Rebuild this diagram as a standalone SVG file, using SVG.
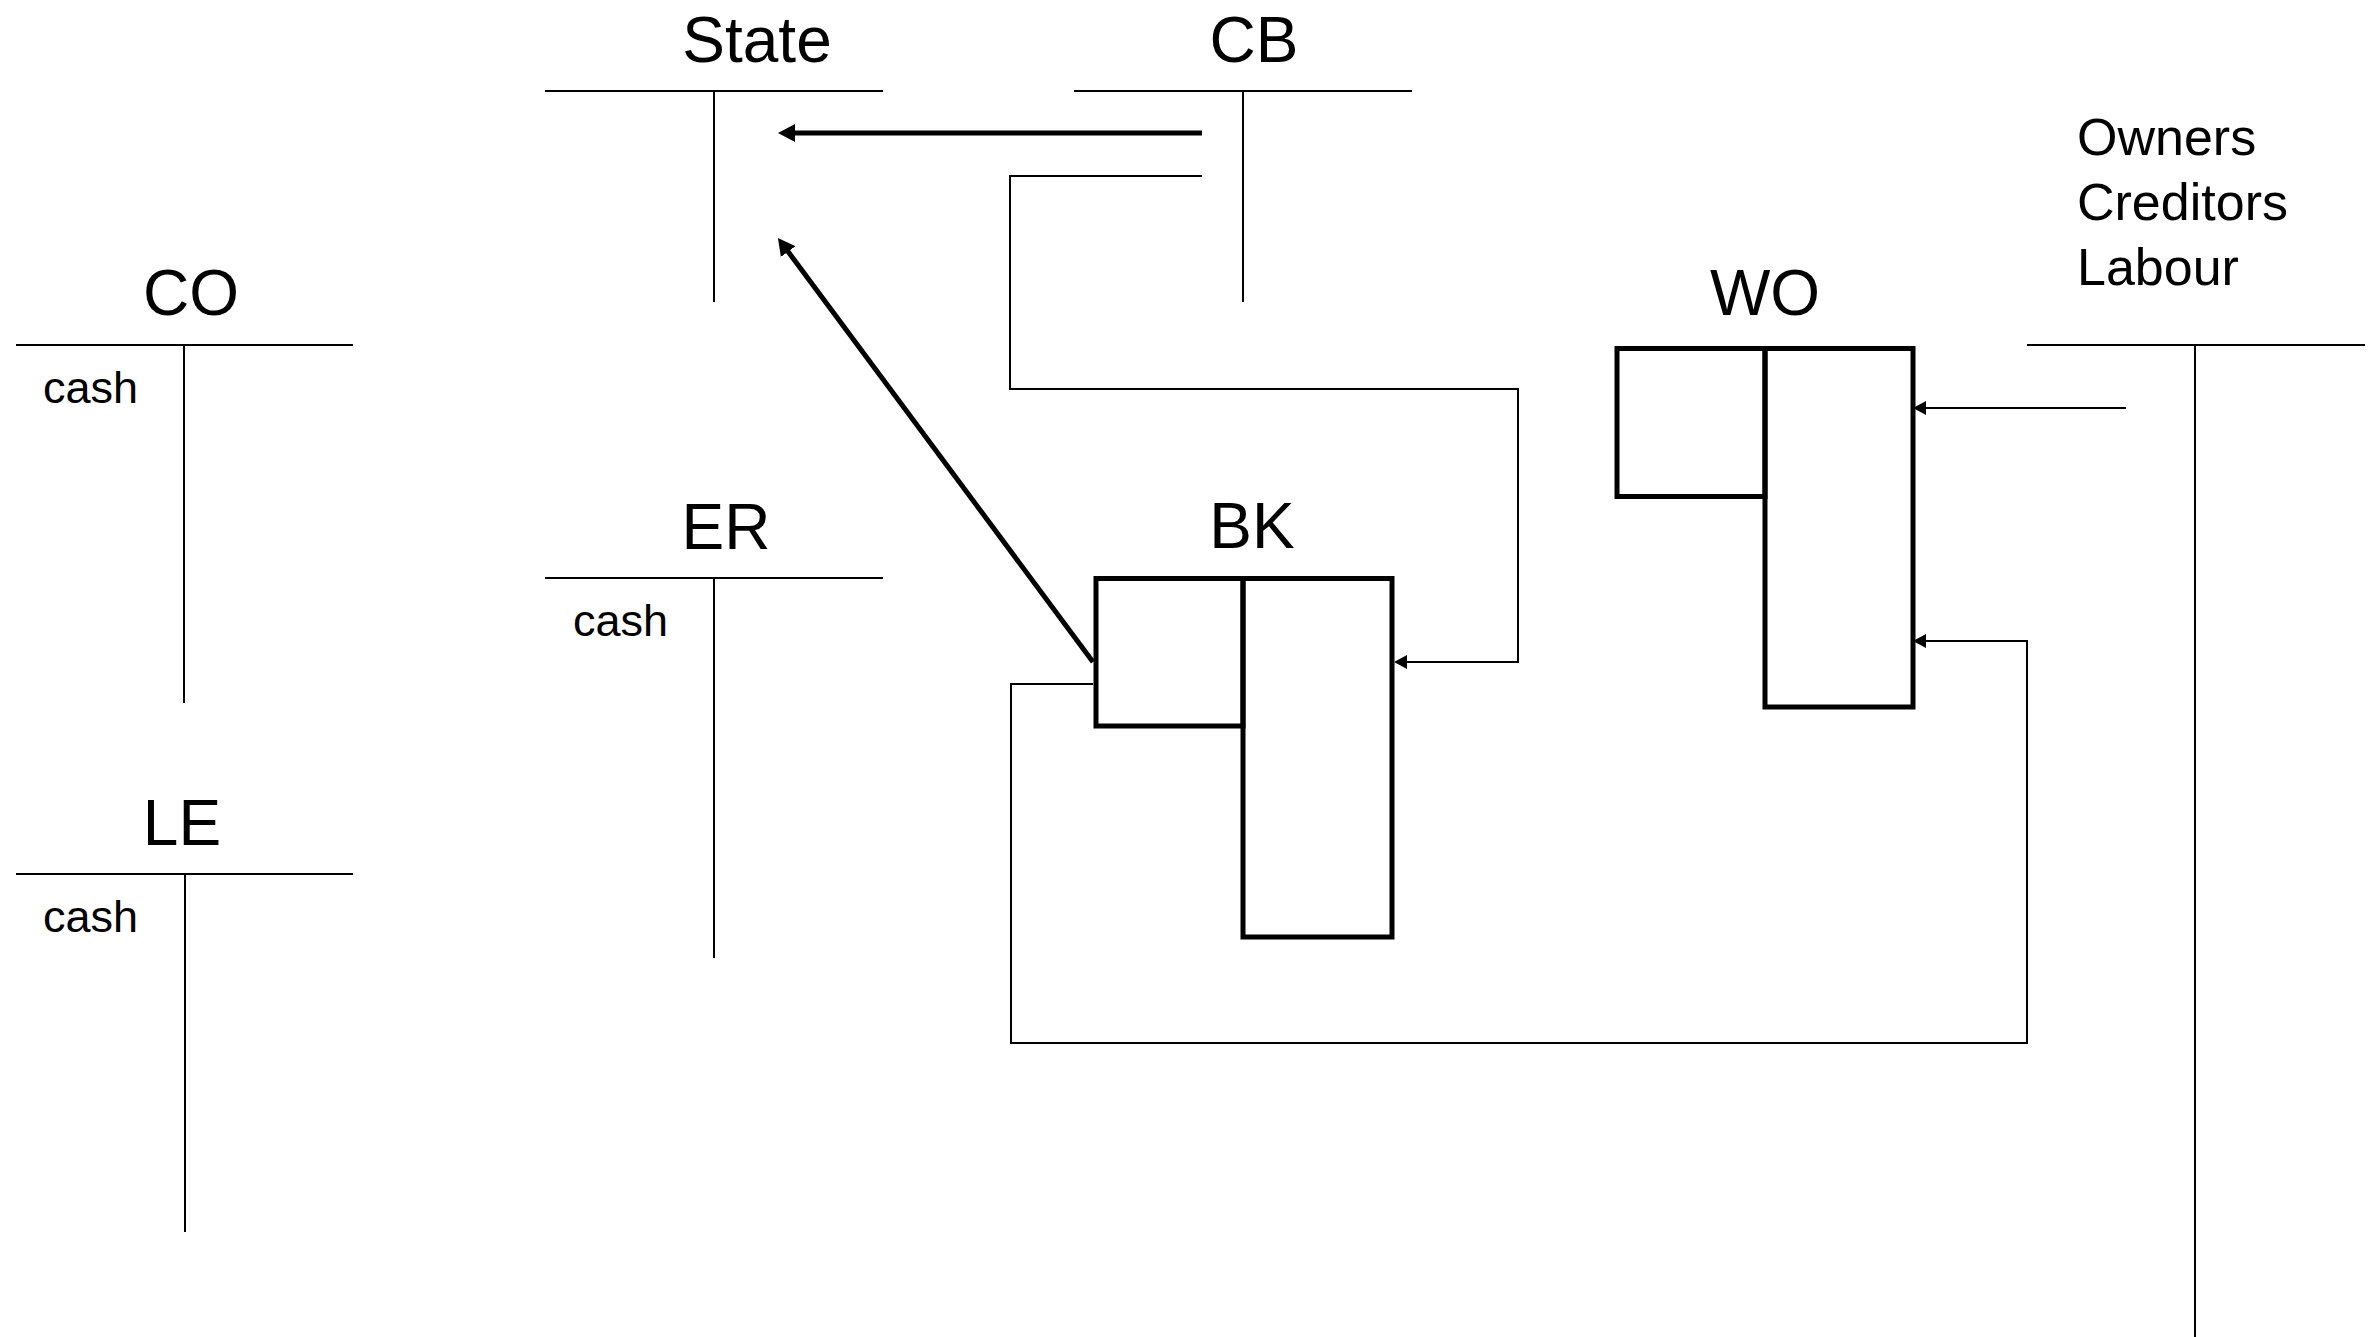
<svg xmlns="http://www.w3.org/2000/svg" width="2376" height="1337" viewBox="0 0 2376 1337">
  <style>
    .title { font-family: "Liberation Sans", Arial, sans-serif; font-size: 64px; fill: #000; text-anchor: middle; }
    .small { font-family: "Liberation Sans", Arial, sans-serif; font-size: 45px; fill: #000; }
    .side { font-family: "Liberation Sans", Arial, sans-serif; font-size: 52px; fill: #000; }
    .tline { stroke: #000; stroke-width: 2; fill: none; }
    .box { stroke: #000; stroke-width: 5; fill: none; }
    .thick { stroke: #000; stroke-width: 5; fill: none; }
    .thin { stroke: #000; stroke-width: 2; fill: none; }
  </style>
  <defs>
    <marker id="headThick" markerUnits="userSpaceOnUse" markerWidth="18" markerHeight="18" refX="3" refY="9" orient="auto">
      <path d="M0,0 L17,9 L0,18 Z" fill="#000"/>
    </marker>
    <marker id="headThin" markerUnits="userSpaceOnUse" markerWidth="14" markerHeight="14" refX="2" refY="7" orient="auto">
      <path d="M0,0 L13,7 L0,14 Z" fill="#000"/>
    </marker>
  </defs>

  <rect width="2376" height="1337" fill="#fff"/>

  <!-- T-accounts -->
  <g id="state">
    <text class="title" x="757" y="62">State</text>
    <path class="tline" d="M545,91 H883 M714,91 V302"/>
  </g>
  <g id="cb">
    <text class="title" x="1254" y="62">CB</text>
    <path class="tline" d="M1074,91 H1412 M1243,91 V302"/>
  </g>
  <g id="co">
    <text class="title" x="191" y="315">CO</text>
    <path class="tline" d="M16,345 H353 M184,345 V703"/>
    <text class="small" x="43" y="403">cash</text>
  </g>
  <g id="le">
    <text class="title" x="182" y="845">LE</text>
    <path class="tline" d="M16,874 H353 M185,874 V1232"/>
    <text class="small" x="43" y="932">cash</text>
  </g>
  <g id="er">
    <text class="title" x="726" y="549">ER</text>
    <path class="tline" d="M545,578 H883 M714,578 V958"/>
    <text class="small" x="573" y="636">cash</text>
  </g>
  <g id="owners">
    <text class="side" x="2077" y="155">Owners</text>
    <text class="side" x="2077" y="220">Creditors</text>
    <text class="side" x="2077" y="285">Labour</text>
    <path class="tline" d="M2027,345 H2365 M2195,345 V1337"/>
  </g>

  <!-- Balance sheets -->
  <g id="bk">
    <text class="title" x="1252" y="548">BK</text>
    <rect class="box" x="1096" y="578.5" width="147" height="147.5"/>
    <rect class="box" x="1243" y="578.5" width="149" height="358.5"/>
  </g>
  <g id="wo">
    <text class="title" x="1765" y="315">WO</text>
    <rect class="box" x="1617" y="348.5" width="148" height="148"/>
    <rect class="box" x="1765" y="348.5" width="148" height="358.5"/>
  </g>

  <!-- Connectors -->
  <g id="connectors">
    <path class="thick" d="M1202,133 H792" marker-end="url(#headThick)"/>
    <path class="thick" d="M1093,662 L786.3,249.2" marker-end="url(#headThick)"/>
    <path class="thin" d="M1202,176 H1010 V389 H1518 V662 H1405" marker-end="url(#headThin)"/>
    <path class="thin" d="M1093,684 H1011 V1043 H2027 V641 H1924" marker-end="url(#headThin)"/>
    <path class="thin" d="M2126,408 H1924" marker-end="url(#headThin)"/>
  </g>
</svg>
